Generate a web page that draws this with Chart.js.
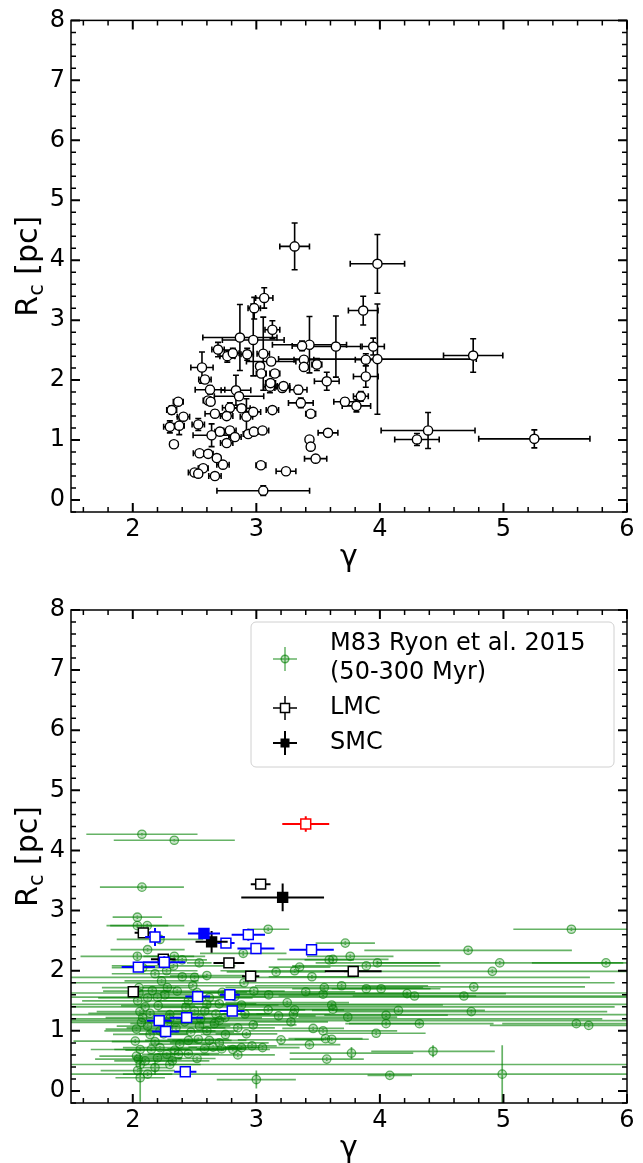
<!DOCTYPE html>
<html>
<head>
<meta charset="utf-8">
<script src="https://cdn.jsdelivr.net/npm/chart.js@4.4.1/dist/chart.umd.min.js"></script>
<style>
  html, body { margin: 0; padding: 0; background: #fff; }
  #wrap { position: relative; width: 643px; height: 1163px; overflow: hidden; }
  .box { position: absolute; left: 0; width: 643px; }
  #box1 { top: 0; height: 580px; }
  #box2 { top: 580px; height: 583px; }
</style>
</head>
<body>
<div id="wrap">
  <div class="box" id="box1"><canvas id="chartTop"></canvas></div>
  <div class="box" id="box2"><canvas id="chartBottom"></canvas></div>
</div>
<script>
// ---- axis setup ----
var gammaRange = [1.5, 6];
var rcRange = [-0.2, 8];
var gammaTicks = [2, 3, 4, 5, 6];
var rcTicks = [0, 1, 2, 3, 4, 5, 6, 7, 8];

// ---- top panel: cluster sample ----
var topGamma = [3.31, 3.98, 3.865, 4.755, 3.98, 3.644, 3.43, 3.37, 3.946, 3.886, 3.385, 3.385, 3.49, 3.57, 3.886,
  3.21, 3.34, 3.36, 3.44, 3.717, 3.846, 3.81, 3.58, 3.43, 3.44, 4.39, 4.30, 5.25, 3.48,
  3.064, 2.983, 3.13, 2.867, 2.975, 2.69, 2.765, 2.81, 2.926, 3.056, 3.12, 2.56, 3.03, 3.04, 3.15,
  2.584, 2.625, 2.835, 2.86, 3.11, 3.22, 3.115, 2.61, 2.63, 2.368, 2.315, 2.41, 2.665, 2.786, 2.88,
  2.92, 2.76, 2.975, 3.13, 2.53, 2.376, 2.30, 2.638, 2.705, 2.786, 2.827, 2.934, 2.98, 3.05, 2.76,
  2.333, 2.54, 2.61, 2.68, 2.73, 2.57, 2.50, 2.53, 2.665, 3.037, 3.24, 3.056];
var topRc = [4.23, 3.94, 3.16, 2.41, 2.35, 2.56, 2.59, 2.57, 2.56, 2.34, 2.34, 2.22, 2.26, 1.98, 2.06,
  1.87, 1.84, 1.62, 1.44, 1.64, 1.73, 1.57, 1.12, 1.01, 0.89, 1.16, 1.01, 1.02, 0.69,
  3.37, 3.20, 2.84, 2.71, 2.67, 2.51, 2.40, 2.45, 2.43, 2.44, 2.31, 2.21, 2.23, 2.11, 2.11,
  2.01, 1.84, 1.83, 1.73, 1.89, 1.90, 1.95, 1.66, 1.64, 1.64, 1.50, 1.39, 1.44, 1.54, 1.53,
  1.39, 1.40, 1.47, 1.50, 1.26, 1.24, 1.22, 1.08, 1.14, 1.16, 1.05, 1.10, 1.14, 1.16, 0.95,
  0.93, 0.78, 0.77, 0.70, 0.59, 0.53, 0.46, 0.44, 0.40, 0.58, 0.48, 0.155];
var topGammaErr = [0.12, 0.22, 0.12, 0.24, 0.8, 0.2, 0.3, 0.08, 0.09, 0.085, 0.08, 0.03, 0.04, 0.1, 0.1,
  0.06, 0.07, 0.1, 0.04, 0.09, 0.06, 0.115, 0.08, 0.02, 0.03, 0.38, 0.18, 0.45, 0.09,
  0.07, 0.05, 0.06, 0.3, 0.25, 0.05, 0.06, 0.05, 0.05, 0.05, 0.2, 0.09, 0.03, 0.04, 0.04,
  0.05, 0.12, 0.12, 0.2, 0.05, 0.05, 0.04, 0.04, 0.03, 0.04, 0.04, 0.05, 0.08, 0.06, 0.07,
  0.05, 0.05, 0.06, 0.05, 0.05, 0.04, 0.05, 0.15, 0.04, 0.05, 0.05, 0.04, 0.04, 0.05, 0.05,
  0.03, 0.05, 0.04, 0.03, 0.05, 0.04, 0.05, 0.03, 0.05, 0.04, 0.08, 0.375];
var topRcErr = [0.39, 0.49, 0.24, 0.28, 0.92, 0.51, 0.47, 0.08, 0.14, 0.1, 0.05, 0.04, 0.1, 0.15, 0.18,
  0.06, 0.07, 0.08, 0.05, 0.06, 0.08, 0.1, 0.06, 0.03, 0.03, 0.3, 0.1, 0.15, 0.05,
  0.17, 0.18, 0.15, 0.55, 0.6, 0.12, 0.1, 0.08, 0.1, 0.61, 0.06, 0.26, 0.05, 0.04, 0.06,
  0.05, 0.07, 0.25, 0.05, 0.1, 0.05, 0.05, 0.06, 0.04, 0.05, 0.07, 0.05, 0.06, 0.08, 0.06,
  0.3, 0.05, 0.05, 0.05, 0.1, 0.15, 0.1, 0.19, 0.06, 0.05, 0.05, 0.04, 0.04, 0.03, 0.05,
  0.05, 0.03, 0.03, 0.03, 0.04, 0.04, 0.03, 0.03, 0.03, 0.03, 0.03, 0.08];

// ---- bottom panel: M83 clusters (Ryon et al. 2015, 50-300 Myr) ----
var m83Gamma = [2.074, 2.336, 2.074, 2.037, 2.037, 2.117, 3.096, 2.037, 2.336, 2.40, 2.538, 2.894, 2.274, 2.33,
  2.233, 2.486, 2.28, 2.158, 2.36, 2.52, 2.724, 2.827, 2.04, 2.205, 2.43, 2.058, 2.14, 2.50, 2.583, 2.673,
  2.746, 2.88, 2.908, 3.096, 2.07, 2.03, 2.14, 2.22, 2.54, 2.75, 2.81, 2.975, 2.88, 2.965, 2.02, 2.06,
  2.15, 2.22, 2.34, 2.45, 2.53, 2.62, 2.70, 2.65, 2.045, 2.275, 2.37, 2.52, 2.30, 2.06, 2.18, 2.06, 3.0,
  3.30, 3.31, 3.25, 3.31, 3.35, 3.16, 3.55, 3.54, 3.61, 3.62, 3.54, 3.61, 3.43, 3.57, 3.77, 3.69, 3.72,
  3.62, 3.76, 5.55, 4.714, 4.97, 5.83, 4.91, 4.76, 4.68, 4.74, 5.59, 5.69, 4.43, 4.99, 4.08, 3.97, 4.32,
  4.05, 4.15, 4.05, 3.74, 3.56, 3.46, 4.22, 4.28, 3.89, 4.01, 3.98, 3.89, 3.59,
  2.05, 2.10, 2.30, 2.5, 2.9, 2.2, 2.6, 2.3, 2.7,
  2.08, 2.12, 2.18, 2.25, 2.28, 2.35, 2.38, 2.42, 2.47, 2.55, 2.58, 2.60, 2.66, 2.72, 2.85, 2.92, 3.05,
  3.1, 3.18, 2.98, 2.05, 2.12, 2.26, 2.45, 2.62, 2.7, 2.18, 2.40, 2.6, 2.08, 2.12, 2.22, 2.03, 2.10,
  2.2, 2.32, 2.45, 2.04, 2.12, 2.85, 3.2, 3.28, 3.4, 3.45];
var m83Rc = [4.27, 4.17, 3.39, 2.89, 2.75, 2.75, 2.69, 2.24, 2.24, 2.18, 2.13, 2.29, 2.0, 2.08,
  1.83, 1.75, 1.72, 1.67, 1.66, 1.64, 1.64, 1.57, 1.50, 1.42, 1.39, 1.32, 1.29, 1.33, 1.33, 1.28,
  1.22, 1.43, 1.28, 1.35, 1.14, 1.03, 0.94, 1.0, 1.08, 0.94, 0.69, 1.10, 0.72, 0.75, 0.83, 0.69,
  0.69, 0.72, 0.68, 0.84, 0.86, 0.84, 0.80, 0.73, 0.53, 0.61, 0.61, 0.54, 0.44, 0.44, 0.39, 0.22, 0.19,
  1.28, 1.35, 1.47, 2.0, 2.06, 1.98, 1.72, 1.61, 1.43, 1.36, 1.0, 0.86, 0.77, 0.53, 0.63, 1.75, 2.46,
  2.19, 2.24, 2.69, 2.34, 2.13, 2.13, 1.99, 1.73, 1.58, 1.32, 1.12, 1.09, 0.66, 0.28, 0.26, 0.96, 1.12,
  1.12, 1.34, 1.26, 1.23, 0.87, 1.04, 1.62, 1.58, 1.70, 1.70, 2.13, 2.08, 2.18,
  1.63, 1.40, 1.20, 1.89, 1.80, 1.56, 1.44, 1.27, 1.17,
  1.22, 1.08, 0.82, 0.95, 1.12, 1.05, 0.78, 1.15, 0.98, 1.20, 0.70, 1.00, 1.12, 0.70, 1.05, 0.95, 0.72,
  1.60, 1.25, 1.66, 1.72, 1.55, 1.60, 1.50, 1.55, 1.45, 1.95, 1.90, 1.92, 2.05, 2.35, 2.52, 0.58, 0.50,
  0.55, 0.50, 0.62, 0.34, 0.28, 0.60, 0.85, 1.15, 1.65, 1.90];
var m83GammaErr = [0.45, 0.49, 0.34, 0.2, 0.25, 0.3, 0.17, 0.46, 0.25, 0.2, 0.1, 0.35, 0.25, 0.5,
  0.3, 0.4, 0.2, 0.15, 0.6, 0.3, 0.2, 0.25, 0.45, 0.3, 0.2, 0.35, 0.5, 0.3, 0.25, 0.4,
  0.3, 0.3, 0.2, 0.3, 0.6, 0.25, 0.3, 0.45, 0.25, 0.2, 0.3, 0.35, 0.15, 0.2, 0.5, 0.4,
  0.3, 0.3, 0.4, 0.35, 0.25, 0.3, 0.4, 0.2, 0.35, 0.2, 0.25, 0.15, 0.25, 4.0, 0.1, 0.2, 0.32,
  0.3, 0.4, 0.5, 0.6, 0.25, 0.4, 0.8, 0.7, 0.9, 0.5, 0.6, 0.3, 0.25, 0.3, 0.5, 0.7, 0.24,
  0.45, 0.35, 0.47, 0.84, 1.0, 0.6, 1.2, 0.9, 1.5, 1.1, 0.6, 0.8, 0.5, 3.6, 0.18, 0.4, 0.6,
  0.3, 0.7, 0.5, 0.4, 0.3, 0.25, 0.8, 0.5, 0.6, 0.4, 0.5, 0.6, 0.2,
  4.0, 3.8, 3.5, 3.2, 3.0, 3.9, 3.5, 3.8, 3.4,
  0.3, 0.25, 0.35, 0.2, 0.3, 0.4, 0.25, 0.3, 0.35, 0.2, 0.3, 0.25, 0.35, 0.2, 0.3, 0.25, 0.3,
  0.4, 0.3, 0.25, 0.3, 0.4, 0.3, 0.25, 0.35, 0.3, 0.35, 0.2, 0.3, 0.25, 0.3, 0.35, 0.3, 0.25,
  0.2, 0.3, 0.25, 0.3, 0.2, 0.3, 0.35, 0.3, 0.4, 0.35];
var m83RcErr = [0.02, 0.02, 0.03, 0.03, 0.04, 0.03, 0.03, 0.05, 0.03, 0.03, 0.03, 0.04, 0.03, 0.03,
  0.03, 0.03, 0.03, 0.03, 0.03, 0.03, 0.03, 0.03, 0.03, 0.03, 0.03, 0.03, 0.04, 0.03, 0.03, 0.03,
  0.03, 0.03, 0.03, 0.03, 0.03, 0.03, 0.03, 0.03, 0.03, 0.03, 0.03, 0.03, 0.03, 0.03, 0.03, 0.03,
  0.03, 0.03, 0.03, 0.03, 0.03, 0.03, 0.03, 0.03, 0.03, 0.03, 0.03, 0.03, 0.03, 0.03, 0.12, 0.4, 0.15,
  0.03, 0.03, 0.03, 0.03, 0.03, 0.03, 0.03, 0.03, 0.03, 0.03, 0.03, 0.03, 0.03, 0.03, 0.1, 0.03, 0.03,
  0.03, 0.03, 0.03, 0.03, 0.03, 0.03, 0.03, 0.03, 0.03, 0.03, 0.03, 0.03, 0.1, 0.48, 0.03, 0.03, 0.03,
  0.03, 0.03, 0.03, 0.03, 0.03, 0.03, 0.03, 0.03, 0.03, 0.03, 0.03, 0.03, 0.03,
  0.03, 0.03, 0.03, 0.03, 0.03, 0.03, 0.03, 0.03, 0.03,
  0.03, 0.03, 0.03, 0.03, 0.03, 0.03, 0.03, 0.03, 0.03, 0.03, 0.03, 0.03, 0.03, 0.03, 0.03, 0.03, 0.03,
  0.03, 0.03, 0.03, 0.03, 0.03, 0.03, 0.03, 0.03, 0.03, 0.03, 0.03, 0.03, 0.03, 0.03, 0.03, 0.03, 0.03,
  0.03, 0.03, 0.03, 0.03, 0.03, 0.03, 0.03, 0.03, 0.03, 0.03];

// ---- LMC clusters (black, blue, red groups) ----
var lmcGamma = [3.035, 2.085, 3.784, 2.778, 2.247, 2.954, 2.004];
var lmcRc = [3.44, 2.63, 1.99, 2.13, 2.19, 1.91, 1.65];
var lmcGammaErr = [0.08, 0.07, 0.23, 0.125, 0.1, 0.07, 0.04];
var lmcRcErr = [0.05, 0.07, 0.05, 0.08, 0.08, 0.05, 0.04];

var lmcBlueGamma = [2.18, 2.754, 2.935, 2.997, 3.447, 2.255, 2.045, 2.525, 2.786, 2.805, 2.436, 2.214, 2.266, 2.425];
var lmcBlueRc = [2.56, 2.46, 2.60, 2.37, 2.35, 2.14, 2.06, 1.57, 1.60, 1.33, 1.22, 1.17, 0.99, 0.32];
var lmcBlueGammaErr = [0.08, 0.07, 0.135, 0.15, 0.18, 0.17, 0.135, 0.1, 0.08, 0.1, 0.135, 0.1, 0.11, 0.09];
var lmcBlueRcErr = [0.15, 0.05, 0.1, 0.08, 0.05, 0.1, 0.05, 0.05, 0.05, 0.05, 0.05, 0.05, 0.03, 0.03];

var lmcRedGamma = [3.40];
var lmcRedRc = [4.44];
var lmcRedGammaErr = [0.19];
var lmcRedRcErr = [0.13];

// ---- SMC clusters ----
var smcGamma = [3.213, 2.638];
var smcRc = [3.22, 2.48];
var smcGammaErr = [0.335, 0.13];
var smcRcErr = [0.23, 0.18];

var smcBlueGamma = [2.576];
var smcBlueRc = [2.62];
var smcBlueGammaErr = [0.13];
var smcBlueRcErr = [0.08];

var FONT = '"DejaVu Sans", sans-serif';
var M83_LINE = 'rgba(0,128,0,0.6)';
var M83_FILL = 'rgba(0,128,0,0.22)';

function pts(xs, ys) {
  return xs.map(function (x, i) { return { x: x, y: ys[i] }; });
}

// error bars, drawn just under each dataset's markers
var errorBars = {
  id: 'errorBars',
  beforeDatasetDraw: function (chart, args) {
    var ds = chart.data.datasets[args.index];
    if (!ds.xErr) return;
    var xs = chart.scales.x, ys = chart.scales.y, ctx = chart.ctx, a = chart.chartArea;
    ctx.save();
    ctx.beginPath();
    ctx.rect(a.left, a.top, a.right - a.left, a.bottom - a.top);
    ctx.clip();
    ctx.strokeStyle = ds.barColor;
    ctx.lineWidth = ds.barWidth;
    ds.data.forEach(function (p, i) {
      var px = xs.getPixelForValue(p.x), py = ys.getPixelForValue(p.y);
      var x0 = xs.getPixelForValue(p.x - ds.xErr[i]), x1 = xs.getPixelForValue(p.x + ds.xErr[i]);
      var y0 = ys.getPixelForValue(p.y - ds.yErr[i]), y1 = ys.getPixelForValue(p.y + ds.yErr[i]);
      ctx.beginPath();
      ctx.moveTo(x0, py); ctx.lineTo(x1, py);
      ctx.moveTo(px, y0); ctx.lineTo(px, y1);
      if (ds.cap) {
        ctx.moveTo(x0, py - ds.cap); ctx.lineTo(x0, py + ds.cap);
        ctx.moveTo(x1, py - ds.cap); ctx.lineTo(x1, py + ds.cap);
        ctx.moveTo(px - ds.cap, y0); ctx.lineTo(px + ds.cap, y0);
        ctx.moveTo(px - ds.cap, y1); ctx.lineTo(px + ds.cap, y1);
      }
      ctx.stroke();
    });
    ctx.restore();
  }
};

function drawRcTitle(ctx, cx, cy, size) {
  ctx.save();
  ctx.translate(cx, cy);
  ctx.rotate(-Math.PI / 2);
  ctx.fillStyle = '#000';
  ctx.textBaseline = 'alphabetic';
  ctx.textAlign = 'left';
  var big = size + 'px ' + FONT, small = Math.round(size * 0.7) + 'px ' + FONT;
  ctx.font = big; var wR = ctx.measureText('R').width, wRest = ctx.measureText(' [pc]').width;
  ctx.font = small; var wc = ctx.measureText('c').width;
  var x = -(wR + wc + wRest) / 2;
  ctx.font = big; ctx.fillText('R', x, 0);
  ctx.font = small; ctx.fillText('c', x + wR, size * 0.2);
  ctx.font = big; ctx.fillText(' [pc]', x + wR + wc, 0);
  ctx.restore();
}

function drawLegend(chart) {
  var ctx = chart.ctx, a = chart.chartArea;
  var left = a.left + 180, top = a.top + 12, w = 363, h = 145, r = 5;
  ctx.save();
  ctx.beginPath();
  ctx.moveTo(left + r, top);
  ctx.arcTo(left + w, top, left + w, top + h, r);
  ctx.arcTo(left + w, top + h, left, top + h, r);
  ctx.arcTo(left, top + h, left, top, r);
  ctx.arcTo(left, top, left + w, top, r);
  ctx.closePath();
  ctx.fillStyle = 'rgba(255,255,255,0.8)';
  ctx.fill();
  ctx.strokeStyle = '#d0d0d0';
  ctx.lineWidth = 1;
  ctx.stroke();

  var mx = left + 34, tx = left + 79;
  function cross(y, color, lw) {
    ctx.strokeStyle = color; ctx.lineWidth = lw;
    ctx.beginPath();
    ctx.moveTo(mx - 12, y); ctx.lineTo(mx + 12, y);
    ctx.moveTo(mx, y - 12); ctx.lineTo(mx, y + 12);
    ctx.stroke();
  }
  var y1 = top + 37, y2 = top + 86, y3 = top + 121;
  cross(y1, M83_LINE, 1.5);
  ctx.beginPath(); ctx.arc(mx, y1, 3.8, 0, Math.PI * 2);
  ctx.fillStyle = M83_FILL; ctx.fill(); ctx.strokeStyle = M83_LINE; ctx.stroke();
  cross(y2, '#000', 1.5);
  ctx.fillStyle = '#fff'; ctx.fillRect(mx - 4.5, y2 - 4.5, 9, 9);
  ctx.strokeRect(mx - 4.5, y2 - 4.5, 9, 9);
  cross(y3, '#000', 2);
  ctx.fillStyle = '#000'; ctx.fillRect(mx - 4.5, y3 - 4.5, 9, 9);

  ctx.fillStyle = '#000';
  ctx.font = '24px ' + FONT;
  ctx.textBaseline = 'middle';
  ctx.fillText('M83 Ryon et al. 2015', tx, top + 22);
  ctx.fillText('(50-300 Myr)', tx, top + 51);
  ctx.fillText('LMC', tx, y2);
  ctx.fillText('SMC', tx, y3);
  ctx.restore();
}

// box, inward ticks on all four sides, axis titles
var frame = {
  id: 'frame',
  afterDraw: function (chart) {
    var ctx = chart.ctx, a = chart.chartArea, xs = chart.scales.x, ys = chart.scales.y;
    ctx.save();
    ctx.strokeStyle = '#000';
    ctx.lineWidth = 1.5;
    ctx.strokeRect(a.left, a.top, a.right - a.left, a.bottom - a.top);
    var v, p, major, len;
    for (v = 16; v <= 60; v += 2) {
      major = v % 10 === 0;
      p = xs.getPixelForValue(v / 10);
      len = major ? 9 : 5;
      ctx.lineWidth = major ? 2 : 1.5;
      ctx.beginPath();
      ctx.moveTo(p, a.bottom); ctx.lineTo(p, a.bottom - len);
      ctx.moveTo(p, a.top); ctx.lineTo(p, a.top + len);
      ctx.stroke();
    }
    for (v = -2; v <= 80; v += 2) {
      major = v % 10 === 0;
      p = ys.getPixelForValue(v / 10);
      len = major ? 9 : 5;
      ctx.lineWidth = major ? 2 : 1.5;
      ctx.beginPath();
      ctx.moveTo(a.left, p); ctx.lineTo(a.left + len, p);
      ctx.moveTo(a.right, p); ctx.lineTo(a.right - len, p);
      ctx.stroke();
    }
    ctx.fillStyle = '#000';
    ctx.font = '30px ' + FONT;
    ctx.textAlign = 'center';
    ctx.textBaseline = 'alphabetic';
    ctx.fillText('\u03b3', (a.left + a.right) / 2, a.bottom + 54);
    ctx.restore();
    drawRcTitle(ctx, 37, (a.top + a.bottom) / 2, 30);
    if (chart.options.plugins.frame && chart.options.plugins.frame.legend) drawLegend(chart);
  }
};

function makeOptions(padTop, xHeight, withLegend) {
  return {
    responsive: true,
    maintainAspectRatio: false,
    animation: false,
    events: [],
    layout: { padding: { top: padTop, right: 16, left: 0, bottom: 0 } },
    plugins: { legend: { display: false }, tooltip: { enabled: false }, frame: { legend: withLegend } },
    scales: {
      x: {
        type: 'linear', min: gammaRange[0], max: gammaRange[1],
        grid: { display: false, drawTicks: false }, border: { display: false },
        afterBuildTicks: function (s) { s.ticks = gammaTicks.map(function (v) { return { value: v }; }); },
        afterFit: function (s) { s.height = xHeight; },
        ticks: { color: '#000', font: { family: FONT, size: 24 }, padding: 3, maxRotation: 0, autoSkip: false,
          callback: function (v) { return String(v); } }
      },
      y: {
        type: 'linear', min: rcRange[0], max: rcRange[1],
        grid: { display: false, drawTicks: false }, border: { display: false },
        afterBuildTicks: function (s) { s.ticks = rcTicks.map(function (v) { return { value: v }; }); },
        afterFit: function (s) { s.width = 71; },
        ticks: { color: '#000', font: { family: FONT, size: 24 }, padding: 6, autoSkip: false,
          callback: function (v) { return String(v); } }
      }
    }
  };
}

function errSet(xs, ys, xe, ye, opts) {
  return {
    data: pts(xs, ys), showLine: false, xErr: xe, yErr: ye,
    pointStyle: opts.style, pointRadius: opts.radius,
    pointBackgroundColor: opts.fill, pointBorderColor: opts.edge, pointBorderWidth: opts.edgeWidth,
    barColor: opts.bar, barWidth: opts.barWidth, cap: opts.cap || 0, order: opts.order
  };
}

new Chart(document.getElementById('chartTop'), {
  type: 'scatter',
  data: { datasets: [
    errSet(topGamma, topRc, topGammaErr, topRcErr,
      { style: 'circle', radius: 4.6, fill: '#fff', edge: '#000', edgeWidth: 1.4, bar: '#000', barWidth: 1.6, cap: 3, order: 1 })
  ] },
  options: makeOptions(19, 68, false),
  plugins: [errorBars, frame]
});

new Chart(document.getElementById('chartBottom'), {
  type: 'scatter',
  data: { datasets: [
    errSet(m83Gamma, m83Rc, m83GammaErr, m83RcErr,
      { style: 'circle', radius: 4.2, fill: M83_FILL, edge: M83_LINE, edgeWidth: 1.3, bar: M83_LINE, barWidth: 1.7, order: 6 }),
    errSet(lmcGamma, lmcRc, lmcGammaErr, lmcRcErr,
      { style: 'rect', radius: 7, fill: '#fff', edge: '#000', edgeWidth: 1.5, bar: '#000', barWidth: 2, order: 5 }),
    errSet(lmcBlueGamma, lmcBlueRc, lmcBlueGammaErr, lmcBlueRcErr,
      { style: 'rect', radius: 7, fill: '#fff', edge: '#0000ff', edgeWidth: 1.5, bar: '#0000ff', barWidth: 2, order: 4 }),
    errSet(lmcRedGamma, lmcRedRc, lmcRedGammaErr, lmcRedRcErr,
      { style: 'rect', radius: 7, fill: '#fff', edge: '#ff0000', edgeWidth: 1.5, bar: '#ff0000', barWidth: 2, order: 3 }),
    errSet(smcGamma, smcRc, smcGammaErr, smcRcErr,
      { style: 'rect', radius: 7, fill: '#000', edge: '#000', edgeWidth: 1.5, bar: '#000', barWidth: 2, order: 2 }),
    errSet(smcBlueGamma, smcBlueRc, smcBlueGammaErr, smcBlueRcErr,
      { style: 'rect', radius: 7, fill: '#0000ff', edge: '#0000ff', edgeWidth: 1.5, bar: '#0000ff', barWidth: 2, order: 1 })
  ] },
  options: makeOptions(30, 60, true),
  plugins: [errorBars, frame]
});
</script>
</body>
</html>
